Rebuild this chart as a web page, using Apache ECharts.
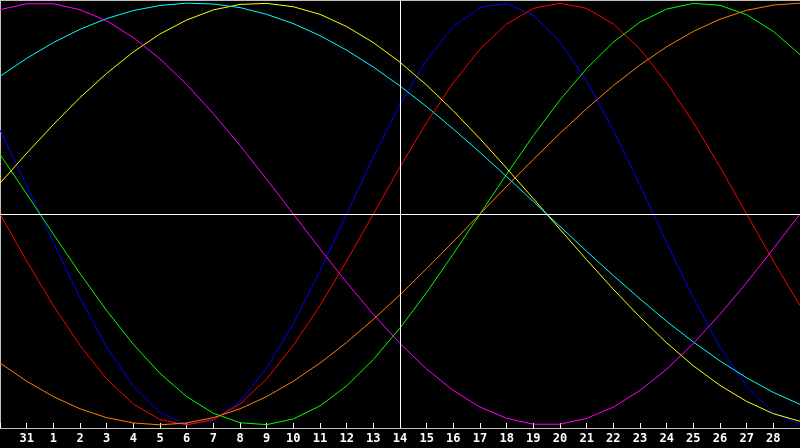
<!DOCTYPE html>
<html lang="en">
<head>
    <meta charset="UTF-8">
    <title>Biorhythm</title>
    <script src="https://cdn.jsdelivr.net/npm/echarts@6/dist/echarts.min.js"></script>
    <style>
        html, body { margin: 0; padding: 0; background: #000; }
    </style>
</head>
<body>
    <div id="main" style="width:800px;height:448px;"></div>
    <script>
    // day labels, from Jan 30 to Mar 1 (first and last not printed)
    var days = ['30', '31', '1', '2', '3', '4', '5', '6', '7', '8', '9', '10', '11', '12', '13', '14',
        '15', '16', '17', '18', '19', '20', '21', '22', '23', '24', '25', '26', '27', '28', '1'];
    var todayIndex = 15; // the 14th

    // cycle values, one per day
    var physical = [0.398, 0.136, -0.136, -0.398, -0.631, -0.817, -0.942, -0.998, -0.979, -0.888, -0.731,
        -0.520, -0.270, 0, 0.270, 0.520, 0.731, 0.888, 0.979, 0.998, 0.942, 0.817, 0.631, 0.398, 0.136,
        -0.136, -0.398, -0.631, -0.817, -0.942, -0.998];
    var emotional = [0, -0.223, -0.434, -0.623, -0.782, -0.901, -0.975, -1, -0.975, -0.901, -0.782,
        -0.623, -0.434, -0.223, 0, 0.223, 0.434, 0.623, 0.782, 0.901, 0.975, 1, 0.975, 0.901, 0.782,
        0.623, 0.434, 0.223, 0, -0.223, -0.434];
    var intellectual = [0.282, 0.095, -0.095, -0.282, -0.458, -0.618, -0.756, -0.866, -0.945, -0.990, -0.999,
        -0.972, -0.910, -0.815, -0.690, -0.541, -0.372, -0.189, 0, 0.189, 0.372, 0.541, 0.690, 0.815, 0.910,
        0.972, 0.999, 0.990, 0.945, 0.866, 0.756];
    var intuitive = [0.969, 0.997, 0.997, 0.969, 0.916, 0.837, 0.736, 0.614, 0.476, 0.325, 0.165,
        0, -0.165, -0.325, -0.476, -0.614, -0.736, -0.837, -0.916, -0.969, -0.997, -0.997, -0.969, -0.916, -0.837,
        -0.736, -0.614, -0.476, -0.325, -0.165, 0];
    var aesthetic = [0.146, 0.288, 0.424, 0.552, 0.667, 0.769, 0.854, 0.920, 0.968, 0.994, 0.999,
        0.983, 0.947, 0.889, 0.813, 0.720, 0.611, 0.489, 0.357, 0.217, 0.073, -0.073, -0.217, -0.357, -0.489,
        -0.611, -0.720, -0.813, -0.889, -0.947, -0.983];
    var awareness = [-0.707, -0.793, -0.866, -0.924, -0.966, -0.991, -1, -0.991, -0.966, -0.924, -0.866,
        -0.793, -0.707, -0.609, -0.5, -0.383, -0.259, -0.131, 0, 0.131, 0.259, 0.383, 0.5, 0.609, 0.707,
        0.793, 0.866, 0.924, 0.966, 0.991, 1];
    var spiritual = [0.653, 0.738, 0.813, 0.876, 0.927, 0.965, 0.989, 1.000, 0.996, 0.979, 0.947,
        0.903, 0.846, 0.777, 0.697, 0.607, 0.509, 0.403, 0.292, 0.177, 0.059, -0.059, -0.177, -0.292, -0.403,
        -0.509, -0.607, -0.697, -0.777, -0.846, -0.903];

    var myChart = echarts.init(document.getElementById('main'));

    function line(name, data, color) {
        return {
            name: name,
            type: 'line',
            data: data,
            symbol: 'none',
            smooth: false,
            lineStyle: { color: color, width: 1 },
            itemStyle: { color: color }
        };
    }

    var series = [
        line('physical', physical, '#0000ff'),
        line('emotional', emotional, '#ff0000'),
        line('intellectual', intellectual, '#00ff00'),
        line('aesthetic', aesthetic, '#ffff00'),
        line('spiritual', spiritual, '#00ffff'),
        line('intuitive', intuitive, '#ff00ff'),
        line('awareness', awareness, '#ff8000')
    ];
    // zero line and today line
    series[0].markLine = {
        silent: true,
        symbol: 'none',
        label: { show: false },
        lineStyle: { color: '#ffffff', type: 'solid', width: 1 },
        data: [{ yAxis: 0 }, { xAxis: todayIndex }]
    };

    myChart.setOption({
        animation: false,
        backgroundColor: '#000000',
        grid: { left: 0, right: 0, top: 0, bottom: 20 },
        xAxis: [{
            type: 'category',
            data: days,
            boundaryGap: false,
            axisLine: { onZero: false, lineStyle: { color: '#c0c0c0', width: 1 } },
            axisTick: { inside: true, length: 5, interval: 0, lineStyle: { color: '#ffffff' } },
            axisLabel: {
                interval: function (index) { return index > 0 && index < days.length - 1; },
                color: '#ffffff',
                fontFamily: 'DejaVu Sans Mono',
                fontWeight: 'bold',
                fontSize: 12,
                margin: 5
            },
            splitLine: { show: false }
        }, {
            type: 'category',
            position: 'top',
            data: days,
            boundaryGap: false,
            axisLine: { onZero: false, lineStyle: { color: '#c0c0c0', width: 1 } },
            axisTick: { show: false },
            axisLabel: { show: false }
        }],
        yAxis: {
            type: 'value',
            min: -1.015,
            max: 1.015,
            axisLine: { show: true, onZero: false, lineStyle: { color: '#c0c0c0', width: 1 } },
            axisTick: { show: false },
            axisLabel: { show: false },
            splitLine: { show: false }
        },
        series: series
    });
    </script>
</body>
</html>
